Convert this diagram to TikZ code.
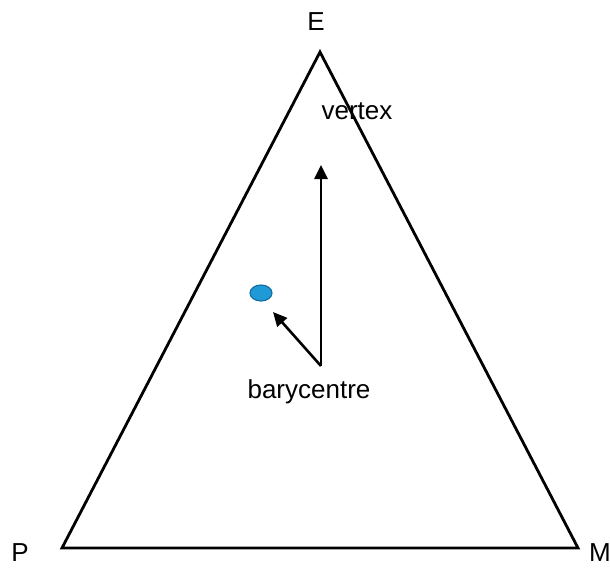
\documentclass[tikz,border=0pt]{standalone}
\usepackage{fontspec}
\setmainfont{Liberation Sans}
\usetikzlibrary{arrows.meta,shapes.geometric}
\definecolor{dotfill}{RGB}{32,154,214}
\definecolor{dotdraw}{RGB}{22,110,165}
\begin{document}
\begin{tikzpicture}[x=1pt,y=-1pt,
  lbl/.style={font=\fontsize{26}{30}\selectfont, inner sep=0pt},
  tri/.style={line width=2.8pt, line join=miter},
  arr/.style={line width=2.6pt, -{Triangle[length=14pt,width=13pt]}}]
\useasboundingbox (0,0) rectangle (610,574);
\coordinate (Ev) at (320,52);
\coordinate (Pv) at (62,548);
\coordinate (Mv) at (578,548);
\draw[tri] (Ev) -- (Mv) -- (Pv) -- cycle;
\node[lbl] (E) at (316,22) {E};
\node[lbl] (P) at (20,553) {P};
\node[lbl] (M) at (600,553) {M};
\node[lbl] (vertex) at (357,111) {vertex};
\node[lbl] (bary) at (309,392) {barycentre};
\coordinate (B) at (321,366);
\coordinate (T) at (321,165);
\coordinate (D) at (273,312);
\draw[arr] (B) -- (T);
\draw[arr] (B) -- (D);
\node[ellipse, minimum width=22pt, minimum height=16pt, fill=dotfill, draw=dotdraw, line width=1.2pt, inner sep=0pt] (dot) at (261,293) {};
\end{tikzpicture}
\end{document}
